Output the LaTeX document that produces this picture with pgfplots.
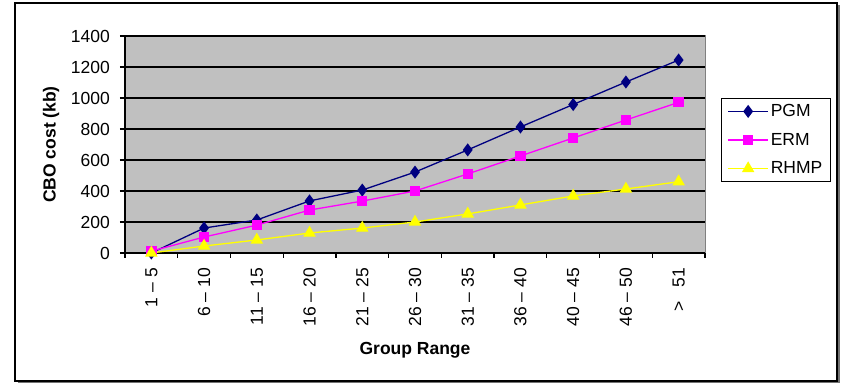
\documentclass[border=0pt]{standalone}
\usepackage{fontspec}
\setmainfont{Liberation Sans}
\usepackage{pgfplots}
\usepackage{pgfplotstable}
\pgfplotsset{compat=1.18}
\definecolor{plotgray}{HTML}{C0C0C0}
\definecolor{pgm}{HTML}{000080}
\definecolor{erm}{HTML}{FF00FF}
\definecolor{rhmp}{HTML}{FFFF00}
\pgfplotstableread{
x PGM ERM RHMP
0 0 12 0
1 161 103 45
2 213 180 84
3 336 277 129
4 406 335 161
5 522 400 200
6 665 510 252
7 813 626 310
8 958 742 368
9 1103 858 413
10 1245 972 460
}\datatable
\begin{document}
\begin{tikzpicture}
\useasboundingbox (0,0) rectangle (847pt,390pt);
\fill[black!55] (17.5pt,6.5pt) rectangle (839.5pt,384.5pt);
\draw[line width=1.2pt, fill=white] (15pt,9pt) rectangle (837pt,387pt);
\begin{axis}[
  at={(125pt,137pt)}, anchor=south west,
  scale only axis, width=580pt, height=217pt,
  xmin=-0.5, xmax=10.5, ymin=0, ymax=1400,
  ytick={0,200,...,1400},
  xtick={0,...,10},
  xticklabels={1 – 5, 6 – 10, 11 – 15, 16 – 20, 21 – 25, 26 – 30, 31 – 35, 36 – 40, 40 – 45, 46 – 50, {>}\hspace{0.75em}51},
  minor xtick={-0.5,0.5,...,10.5},
  major x tick style={draw=none},
  tick align=outside,
  major tick length=5pt, minor tick length=5pt,
  tick style={black, line width=1.2pt},
  axis x line*=bottom, axis y line*=left,
  axis line style={black, line width=1.2pt, -},
  axis background/.style={fill=plotgray, draw=black!50, line width=1pt},
  ymajorgrids, grid style={black, line width=1.3pt},
  /pgf/number format/assume math mode=true,
  /pgf/number format/1000 sep={},
  tick label style={font=\fontsize{17.5}{20}\selectfont},
  xticklabel style={rotate=90, anchor=east, inner sep=2pt},
  xticklabel shift=8pt,
  yticklabel style={inner sep=3pt, xshift=-7pt},
  xlabel={\textbf{Group Range}},
  ylabel={\textbf{CBO cost (kb)}},
  label style={font=\fontsize{17.5}{20}\selectfont},
  xlabel style={yshift=-10pt},
  ylabel style={yshift=5pt},
  legend style={at={(1.0276,0.714)}, anchor=north west, draw=black, line width=1pt,
     font=\fontsize{17.5}{20}\selectfont, row sep=11pt, inner xsep=6pt, inner ysep=4pt},
  legend cell align=left,
  legend image code/.code={\draw[mark repeat=2,mark phase=2,#1] plot coordinates {(0pt,0pt)(20pt,0pt)(40pt,0pt)};},
]
\addplot[pgm, line width=1.3pt, mark=diamond*, mark size=5.5pt, mark options={fill=pgm, draw=pgm}] table[x=x, y=PGM] {\datatable};
\addlegendentry{PGM}
\addplot[erm, line width=1.3pt, mark=square*, mark size=4.5pt, mark options={fill=erm, draw=erm}] table[x=x, y=ERM] {\datatable};
\addlegendentry{ERM}
\addplot[rhmp, line width=1.3pt, mark=triangle*, mark size=6pt, mark options={fill=rhmp, draw=rhmp}] table[x=x, y=RHMP] {\datatable};
\addlegendentry{RHMP}
\end{axis}
\end{tikzpicture}
\end{document}
